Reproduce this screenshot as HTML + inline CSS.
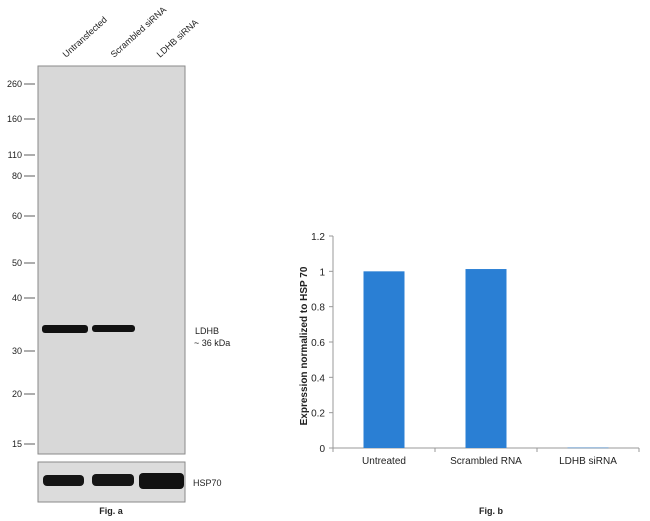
<!DOCTYPE html>
<html><head><meta charset="utf-8"><style>
body{margin:0;width:650px;height:521px;background:#fff;overflow:hidden;font-family:"Liberation Sans",Arial,sans-serif;}
svg{display:block}
</style></head><body>
<svg width="650" height="521" viewBox="0 0 650 521">
<g font-size="9" fill="#222">
  <g>
    <text transform="translate(66,58) rotate(-42)">Untransfected</text>
    <text transform="translate(114,58) rotate(-42)">Scrambled siRNA</text>
    <text transform="translate(160,58) rotate(-42)">LDHB siRNA</text>
  </g>
  <rect x="38" y="66" width="147" height="388" fill="#d8d8d8" stroke="#8a8a8a" stroke-width="1"/>
  <g stroke="#777" stroke-width="1.2">
    <line x1="24" y1="84" x2="35" y2="84"/><line x1="24" y1="119" x2="35" y2="119"/>
    <line x1="24" y1="155" x2="35" y2="155"/><line x1="24" y1="176" x2="35" y2="176"/>
    <line x1="24" y1="216" x2="35" y2="216"/><line x1="24" y1="263" x2="35" y2="263"/>
    <line x1="24" y1="298" x2="35" y2="298"/><line x1="24" y1="351" x2="35" y2="351"/>
    <line x1="24" y1="394" x2="35" y2="394"/><line x1="24" y1="444" x2="35" y2="444"/>
  </g>
  <g text-anchor="end">
    <text x="22" y="87">260</text><text x="22" y="122">160</text><text x="22" y="158">110</text>
    <text x="22" y="179">80</text><text x="22" y="219">60</text><text x="22" y="266">50</text>
    <text x="22" y="301">40</text><text x="22" y="354">30</text><text x="22" y="397">20</text><text x="22" y="447">15</text>
  </g>
  <rect x="42" y="325" width="46" height="8" rx="3" fill="#111"/>
  <rect x="92" y="325" width="43" height="7" rx="3" fill="#111"/>
  <text x="195" y="334">LDHB</text>
  <text x="194" y="346">~ 36 kDa</text>
  <rect x="38" y="462" width="147" height="40" fill="#dcdcdc" stroke="#8a8a8a" stroke-width="1"/>
  <rect x="43" y="475" width="41" height="11" rx="4" fill="#151515"/>
  <rect x="92" y="474" width="42" height="12" rx="4" fill="#151515"/>
  <rect x="139" y="473" width="45" height="16" rx="4" fill="#111"/>
  <text x="193" y="486">HSP70</text>
  <text x="111" y="514" text-anchor="middle" font-weight="bold">Fig. a</text>
</g>
<g id="chart"></g>
</svg>
<script>
const categories=["Untreated","Scrambled RNA","LDHB siRNA"];
const values=[1.0,1.013,0.002];
const tickValues=[0,0.2,0.4,0.6,0.8,1,1.2];
const tickLabels=["0","0.2","0.4","0.6","0.8","1","1.2"];
const NS="http://www.w3.org/2000/svg";
const g=document.getElementById('chart');
const x0=333,x1=639,yBase=448,yTop=236,yMax=1.2;
const yS=v=>yBase-(v/yMax)*(yBase-yTop);
const band=(x1-x0)/categories.length;
const xC=i=>x0+band*(i+0.5);
function mk(t,a){const e=document.createElementNS(NS,t);for(const k in a)e.setAttribute(k,a[k]);g.appendChild(e);return e;}
let ax=mk('line',{x1:x0,y1:yBase,x2:x1,y2:yBase,stroke:'#999','stroke-width':1});


let ay=mk('line',{x1:x0,y1:yTop,x2:x0,y2:yBase,stroke:'#999','stroke-width':1});


tickValues.forEach((v,i)=>{
  const y=yS(v);
  const tk=mk('line',{x1:x0-4,y1:y,x2:x0,y2:y,stroke:'#999'});
  
  
  const t=mk('text',{x:x0-8,y:y+4,'text-anchor':'end','font-size':'10',fill:'#222'});
  t.textContent=tickLabels[i];
  
  
});
for(let i=0;i<=categories.length;i++){
  const tk=mk('line',{x1:x0+band*i,y1:yBase,x2:x0+band*i,y2:yBase+4,stroke:'#999'});
  
  
}
const bw=41;
categories.forEach((c,i)=>{
  const y=yS(values[i]);
  const b=mk('rect',{x:xC(i)-bw/2,y:y,width:bw,height:Math.max(yBase-y,0.5),fill:'#2a7fd4'});
  
  
  const t=mk('text',{x:xC(i),y:yBase+16,'text-anchor':'middle','font-size':'10',fill:'#222'});
  t.textContent=c;
  
  
});
const yt=mk('text',{transform:`translate(307,${(yTop+yBase)/2+4}) rotate(-90)`,'text-anchor':'middle','font-size':'10','font-weight':'bold',fill:'#222'});
yt.textContent='Expression normalized to HSP 70';


const fb=mk('text',{x:491,y:514,'text-anchor':'middle','font-size':'9','font-weight':'bold',fill:'#222'});
fb.textContent='Fig. b';


</script>
</body></html>
